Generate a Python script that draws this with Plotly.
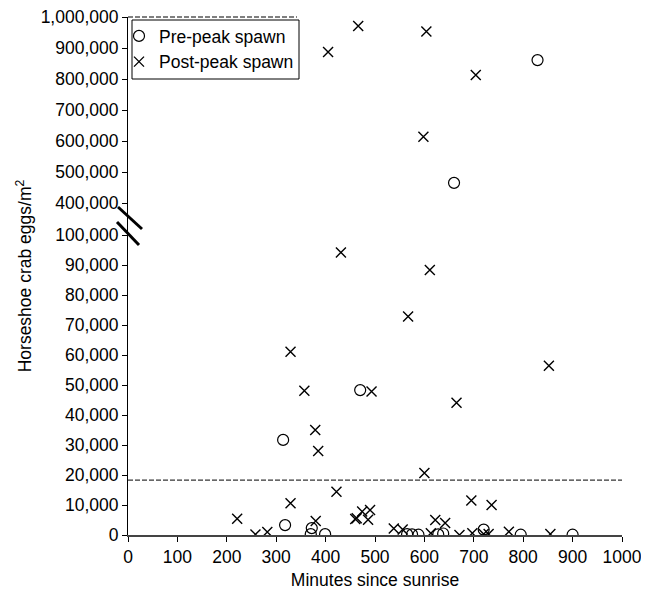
import plotly.graph_objects as go

# ---- data (minutes since sunrise, eggs per m^2) ----
pre_x = [314, 318, 370, 372, 399, 470, 565, 575, 588, 628, 638, 660, 720, 795, 829, 900]
pre_y = [31700, 3300, 300, 2300, 300, 48300, 300, 200, 100, 200, 500, 465000, 1800, 100, 861000, 100]

post_x = [466, 405, 604, 704, 598,
          431, 611, 567, 329, 357, 493, 852, 665, 379, 385, 600,
          422, 329, 695, 736, 221, 380, 258, 282, 460, 463, 474, 490, 486,
          538, 556, 613, 622, 642, 671, 697, 720, 730, 771, 855]
post_y = [971000, 887000, 953000, 813000, 614000,
          94200, 88300, 72800, 61100, 48100, 47800, 56400, 44100, 35000, 28000, 20700,
          14400, 10600, 11500, 10000, 5400, 4700, 200, 1000, 5300, 5600, 7800, 8300, 5100,
          2200, 1800, 600, 5000, 4000, 0, 600, 300, 300, 1100, 300]

mean_line = 18300

y_tick_values = [0, 10000, 20000, 30000, 40000, 50000, 60000, 70000, 80000, 90000, 100000,
                 400000, 500000, 600000, 700000, 800000, 900000, 1000000]
x_tick_values = [0, 100, 200, 300, 400, 500, 600, 700, 800, 900, 1000]


# broken-axis transform: 0-100k lower segment, gap, 400k-1M upper segment
def tf(v):
    if v <= 100000:
        return v / 10000 * 30
    return 332 + (v - 400000) / 100000 * 31


FONT = "Arial, Liberation Sans, sans-serif"
FS = 17.5
PW = 494.0  # plot width in px
PH = 518.0  # plot height in px

fig = go.Figure()
fig.add_trace(go.Scatter(
    x=pre_x, y=[tf(v) for v in pre_y], mode="markers", name="Pre-peak spawn",
    marker=dict(symbol="circle-open", size=11, color="black", line=dict(width=1.2, color="black")),
))
fig.add_trace(go.Scatter(
    x=post_x, y=[tf(v) for v in post_y], mode="markers", name="Post-peak spawn",
    marker=dict(symbol="x-thin", size=10, color="black", line=dict(width=1.4, color="black")),
))

# dashed reference line
fig.add_shape(type="line", xref="x", yref="y", x0=0, x1=1000, y0=tf(mean_line), y1=tf(mean_line),
              line=dict(color="black", width=1, dash="5px,2px"))
# dashed line along top of legend
fig.add_shape(type="line", xref="paper", yref="paper", x0=0, x1=169 / PW, y0=1, y1=1,
              line=dict(color="black", width=1, dash="5px,2px"))
# legend box
fig.add_shape(type="rect", xref="paper", yref="paper", x0=4 / PW, x1=171 / PW,
              y0=1 - 62 / PH, y1=1 - 3 / PH, line=dict(color="black", width=1), fillcolor="white",
              layer="below")
# axis break marks
fig.add_shape(type="line", xref="paper", yref="y", x0=-10 / PW, x1=14 / PW, y0=328, y1=306,
              line=dict(color="black", width=3))
fig.add_shape(type="line", xref="paper", yref="y", x0=-11 / PW, x1=11 / PW, y0=313, y1=290,
              line=dict(color="black", width=3))

# the page body adds an 8px offset, so the figure is 8px smaller and margins shifted
fig.update_layout(
    width=641, height=585,
    margin=dict(l=120, r=27, t=9, b=58),
    paper_bgcolor="white", plot_bgcolor="white",
    font=dict(family=FONT, size=FS, color="black"),
    showlegend=True,
    legend=dict(x=-9 / PW, y=1 - 1 / PH, xanchor="left", yanchor="top",
                borderwidth=0, bgcolor="rgba(0,0,0,0)",
                font=dict(family=FONT, size=FS, color="black"),
                itemwidth=30, tracegroupgap=0),
    xaxis=dict(range=[0, 1000], tickvals=x_tick_values, ticktext=[str(v) for v in x_tick_values],
               showgrid=False, zeroline=False, showline=True, linecolor="#444", linewidth=2,
               ticks="outside", ticklen=5, tickcolor="black", automargin=False,
               ticklabeloverflow="allow",
               title=dict(text="Minutes since sunrise", standoff=8, font=dict(size=FS))),
    yaxis=dict(range=[0, 518], tickvals=[tf(v) for v in y_tick_values],
               ticktext=[f"{v:,}" for v in y_tick_values],
               showgrid=False, zeroline=False, showline=True, linecolor="black", linewidth=1,
               ticks="outside", ticklen=5, tickcolor="black", automargin=False,
               ticklabeloverflow="allow",
               title=dict(text="Horseshoe crab eggs/m<sup>2</sup>", standoff=4, font=dict(size=FS))),
)

fig.write_html("out.html")
